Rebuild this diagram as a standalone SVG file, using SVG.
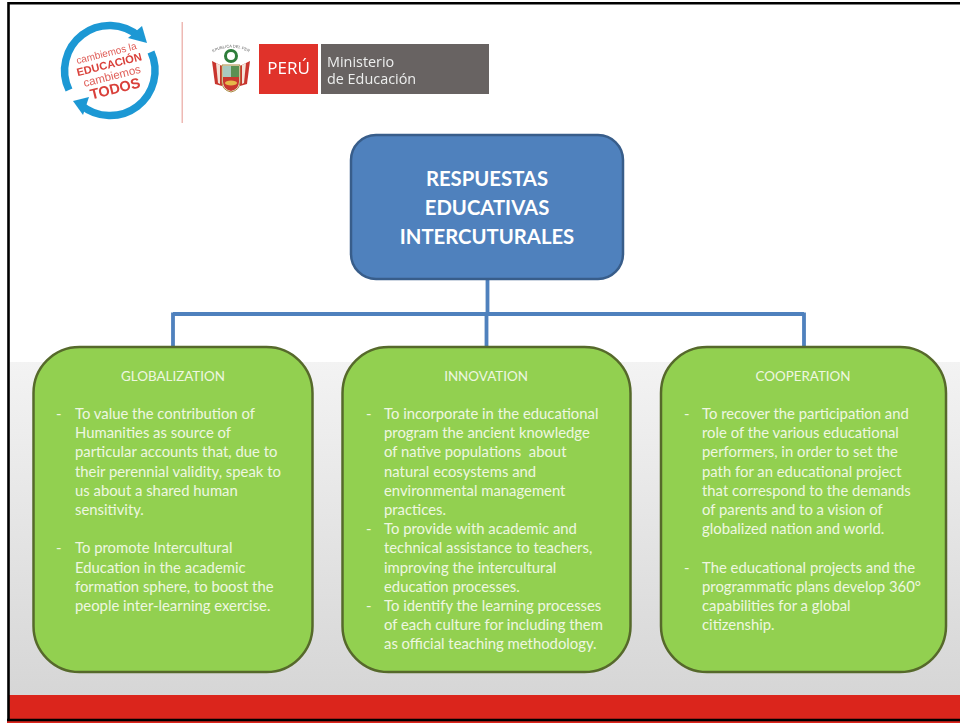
<svg xmlns="http://www.w3.org/2000/svg" width="960" height="723" viewBox="0 0 960 723">
<defs>
<linearGradient id="bg" x1="0" y1="0" x2="0" y2="1"><stop offset="0" stop-color="#f3f3f3"/><stop offset="1" stop-color="#d6d6d6"/></linearGradient>
<filter id="soft" filterUnits="userSpaceOnUse" x="0" y="0" width="960" height="723"><feGaussianBlur stdDeviation="0.5"/></filter>
<path id="crestArc" d="M212 53Q231 42 250 53"/>
</defs>
<style>
.t{font-family:"Lato","Liberation Sans",sans-serif;font-size:14.85px;fill:#eef7e0}
.h{text-anchor:middle;font-size:13.4px}
.card{fill:#92d050;stroke:#56692b;stroke-width:2.5}
.line{stroke:#4f81bd;stroke-width:3.8;fill:none}
.title{font-family:"Lato","Liberation Sans",sans-serif;font-size:20.3px;font-weight:bold;fill:#fff;text-anchor:middle}
.lg{font-family:"Liberation Sans",sans-serif;fill:#d9413a;text-anchor:middle}
</style>
<rect width="960" height="723" fill="#fff"/>
<rect x="8" y="362" width="952" height="333" fill="url(#bg)"/>
<rect x="8" y="695" width="952" height="25" fill="#db251c"/>
<rect x="7" y="721" width="953" height="2" fill="#db251c"/>
<path d="M8.500 721V3.300H960M7 720H960" fill="none" stroke="#000" stroke-width="2.600"/>

<g id="logo-campaign" filter="url(#soft)">
<path d="M139 36.500A45 45 0 0 0 69 90" fill="none" stroke="#1e98d4" stroke-width="7.500"/>
<path d="M151 52A45 45 0 0 1 81 105" fill="none" stroke="#1e98d4" stroke-width="7.500"/>
<path d="M142 26L147 43L128 38Z" fill="#1e98d4"/>
<path d="M73 101L89 97L83 115Z" fill="#1e98d4"/>
<g transform="rotate(-14 111 72)">
<text class="lg" x="111" y="56" font-size="10" fill-opacity="0.85">cambiemos la</text>
<text class="lg" x="111" y="68" font-size="11" font-weight="bold">EDUCACIÓN</text>
<text class="lg" x="111" y="80" font-size="11.500" fill-opacity="0.85">cambiemos</text>
<text class="lg" x="111" y="94" font-size="14.500" font-weight="bold">TODOS</text>
</g>
<rect x="181.500" y="22" width="1.500" height="101" fill="#eeb9b4"/>
</g>

<g id="logo-peru" filter="url(#soft)">
<text font-family="Liberation Sans,sans-serif" font-size="4" fill="#666" text-anchor="middle"><textPath href="#crestArc" startOffset="50%">REPUBLICA DEL PERU</textPath></text>
<circle cx="231" cy="56" r="5.500" fill="none" stroke="#2f7d3a" stroke-width="3"/>
<path d="M212 61L222 66V86L215 84Z" fill="#c8362f"/>
<path d="M250 61L240 66V86L247 84Z" fill="#c8362f"/>
<path d="M216 63L220 65V84L218 83Z" fill="#f3e3d8"/>
<path d="M246 63L242 65V84L244 83Z" fill="#f3e3d8"/>
<path d="M222 65H240V82Q240 90 231 92Q222 90 222 82Z" fill="#f4efe4" stroke="#a88a40"/>
<rect x="223" y="66" width="8" height="11" fill="#a9c9c0"/>
<rect x="231" y="66" width="8" height="11" fill="#5a9152"/>
<path d="M223 77H239V82Q239 89 231 91Q223 89 223 82Z" fill="#c9372f"/>
<ellipse cx="231" cy="83" rx="6" ry="2.500" fill="#e6b94a"/>
<rect x="259" y="44" width="59" height="50" fill="#e0312b"/>
<rect x="321" y="44" width="168" height="50" fill="#676462"/>
<text x="288.500" y="74" font-family="Open Sans,sans-serif" font-size="17" fill="#fff" text-anchor="middle">PERÚ</text>
<text x="327" y="67" font-family="Open Sans,sans-serif" font-size="14.400" fill="#eee">Ministerio</text>
<text x="327" y="84" font-family="Open Sans,sans-serif" font-size="14.400" fill="#eee">de Educación</text>
</g>

<g id="connectors">
<path class="line" d="M487.500 279V314M486.500 314V347M173 314H804M173 312.500V347M804 312.500V347"/>
</g>

<g id="node-main">
<rect x="351" y="135" width="272" height="144" rx="25" fill="#4f81bd" stroke="#385d8a" stroke-width="2.500"/>
<text class="title" x="487" y="186">RESPUESTAS</text>
<text class="title" x="487" y="215">EDUCATIVAS</text>
<text class="title" x="487" y="244">INTERCUTURALES</text>
</g>

<g id="node-globalization">
<rect class="card" x="33.500" y="347" width="279" height="325" rx="46"/>
<text class="t h" x="173" y="381">GLOBALIZATION</text>
<text class="t" x="56" y="419">-</text><text class="t" x="75" y="419">To value the contribution of</text>
<text class="t" x="75" y="438">Humanities as source of</text>
<text class="t" x="75" y="457">particular accounts that, due to</text>
<text class="t" x="75" y="477">their perennial validity, speak to</text>
<text class="t" x="75" y="496">us about a shared human</text>
<text class="t" x="75" y="515">sensitivity.</text>
<text class="t" x="56" y="553">-</text><text class="t" x="75" y="553">To promote Intercultural</text>
<text class="t" x="75" y="573">Education in the academic</text>
<text class="t" x="75" y="592">formation sphere, to boost the</text>
<text class="t" x="75" y="611">people inter-learning exercise.</text>
</g>

<g id="node-innovation">
<rect class="card" x="342.500" y="347" width="288" height="325" rx="46"/>
<text class="t h" x="486" y="381">INNOVATION</text>
<text class="t" x="366" y="419">-</text><text class="t" x="384" y="419">To incorporate in the educational</text>
<text class="t" x="384" y="438">program the ancient knowledge</text>
<text class="t" x="384" y="457" xml:space="preserve">of native populations  about</text>
<text class="t" x="384" y="477">natural ecosystems and</text>
<text class="t" x="384" y="496">environmental management</text>
<text class="t" x="384" y="515">practices.</text>
<text class="t" x="366" y="534">-</text><text class="t" x="384" y="534">To provide with academic and</text>
<text class="t" x="384" y="553">technical assistance to teachers,</text>
<text class="t" x="384" y="573">improving the intercultural</text>
<text class="t" x="384" y="592">education processes.</text>
<text class="t" x="366" y="611">-</text><text class="t" x="384" y="611">To identify the learning processes</text>
<text class="t" x="384" y="630">of each culture for including them</text>
<text class="t" x="384" y="649">as official teaching methodology.</text>
</g>

<g id="node-cooperation">
<rect class="card" x="661" y="347" width="285" height="325" rx="46"/>
<text class="t h" x="803" y="381">COOPERATION</text>
<text class="t" x="684" y="419">-</text><text class="t" x="702" y="419">To recover the participation and</text>
<text class="t" x="702" y="438">role of the various educational</text>
<text class="t" x="702" y="457">performers, in order to set the</text>
<text class="t" x="702" y="477">path for an educational project</text>
<text class="t" x="702" y="496">that correspond to the demands</text>
<text class="t" x="702" y="515">of parents and to a vision of</text>
<text class="t" x="702" y="534">globalized nation and world.</text>
<text class="t" x="684" y="573">-</text><text class="t" x="702" y="573">The educational projects and the</text>
<text class="t" x="702" y="592">programmatic plans develop 360°</text>
<text class="t" x="702" y="611">capabilities for a global</text>
<text class="t" x="702" y="630">citizenship.</text>
</g>
</svg>
